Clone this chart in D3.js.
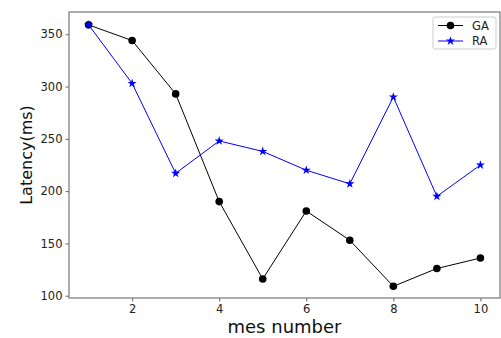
<!DOCTYPE html>
<html>
<head>
<meta charset="utf-8">
<script src="https://cdn.jsdelivr.net/npm/d3@7"></script>
<style>
  body { margin: 0; background: #fff; }
  text { font-family: "DejaVu Sans", sans-serif; }
</style>
</head>
<body>
<div class="latency-plot"></div>
<script>
// data
const mesNumbers = [1, 2, 3, 4, 5, 6, 7, 8, 9, 10];
const gaLatency = [359, 344, 293, 190, 116, 181, 153, 109, 126, 136];
const raLatency = [359, 303, 217, 248, 238, 220, 207, 290, 195, 225];
const xTicks = [2, 4, 6, 8, 10];
const yTicks = [100, 150, 200, 250, 300, 350];

function renderLineChart() {
	const width = 501;
	const height = 338;
	const margin = {top: 12, right: 1, bottom: 40, left: 69};

	const svg = d3.select('.latency-plot')
				.append('svg')
				.attr('width', width)
				.attr('height', height);

	const x = d3.scaleLinear()
				.domain([0.55, 10.45])
				.range([margin.left, width - margin.right]);
	const y = d3.scaleLinear()
				.domain([97.8, 371.3])
				.range([height - margin.bottom, margin.top]);

	// axes
	const xAxis = svg.append('g')
				.attr('transform', `translate(0,${height - margin.bottom})`)
				.call(d3.axisBottom(x).tickValues(xTicks).tickSize(3.5).tickPadding(3));
	const yAxis = svg.append('g')
				.attr('transform', `translate(${margin.left},0)`)
				.call(d3.axisLeft(y).tickValues(yTicks).tickSize(3.5).tickPadding(3));

	[xAxis, yAxis].forEach(function(ax) {
		ax.select('.domain').remove();
		ax.selectAll('line').attr('stroke', '#666');
		ax.selectAll('text')
			.attr('fill', '#222')
			.attr('font-size', '11.5px')
			.attr('font-family', '"DejaVu Sans", sans-serif');
	});

	// frame
	svg.append('rect')
		.attr('x', margin.left)
		.attr('y', margin.top)
		.attr('width', width - margin.right - margin.left)
		.attr('height', height - margin.bottom - margin.top)
		.attr('fill', 'none')
		.attr('stroke', '#777')
		.attr('stroke-width', 1.2);

	const gaData = mesNumbers.map(function(d, i) { return {x: d, y: gaLatency[i]}; });
	const raData = mesNumbers.map(function(d, i) { return {x: d, y: raLatency[i]}; });

	const line = d3.line()
				.x(function(d) { return x(d.x); })
				.y(function(d) { return y(d.y); });

	svg.append('path')
		.datum(gaData)
		.attr('d', line)
		.attr('fill', 'none')
		.attr('stroke', 'black')
		.attr('stroke-width', 1);

	svg.selectAll('.ga-dot')
		.data(gaData)
		.enter()
		.append('circle')
		.attr('class', 'ga-dot')
		.attr('cx', function(d) { return x(d.x); })
		.attr('cy', function(d) { return y(d.y); })
		.attr('r', 3.8)
		.attr('fill', 'black');

	svg.append('path')
		.datum(raData)
		.attr('d', line)
		.attr('fill', 'none')
		.attr('stroke', 'blue')
		.attr('stroke-width', 1);

	const star = d3.symbol().type(d3.symbolStar).size(26);
	svg.selectAll('.ra-dot')
		.data(raData)
		.enter()
		.append('path')
		.attr('class', 'ra-dot')
		.attr('d', star)
		.attr('transform', function(d) { return `translate(${x(d.x)},${y(d.y)})`; })
		.attr('fill', 'blue');

	// axis titles
	svg.append('text')
		.text('mes number')
		.attr('x', (margin.left + width - margin.right) / 2)
		.attr('y', 333)
		.attr('text-anchor', 'middle')
		.attr('font-size', '18px')
		.attr('fill', '#111');

	svg.append('text')
		.text('Latency(ms)')
		.attr('transform', `translate(32,${(margin.top + height - margin.bottom) / 2}) rotate(-90)`)
		.attr('text-anchor', 'middle')
		.attr('font-size', '16px')
		.attr('fill', '#111');

	// legend
	const legend = svg.append('g');
	legend.append('rect')
		.attr('x', 433)
		.attr('y', 17)
		.attr('width', 63)
		.attr('height', 32)
		.attr('rx', 2)
		.attr('fill', 'white')
		.attr('stroke', '#ccc');

	const entries = [
		{name: 'GA', color: 'black', marker: 'circle', cy: 25.5},
		{name: 'RA', color: 'blue', marker: 'star', cy: 41}
	];
	entries.forEach(function(e) {
		legend.append('line')
			.attr('x1', 438).attr('x2', 463)
			.attr('y1', e.cy).attr('y2', e.cy)
			.attr('stroke', e.color);
		if (e.marker === 'circle') {
			legend.append('circle')
				.attr('cx', 450.5).attr('cy', e.cy).attr('r', 3.8)
				.attr('fill', e.color);
		} else {
			legend.append('path')
				.attr('d', star)
				.attr('transform', `translate(450.5,${e.cy})`)
				.attr('fill', e.color);
		}
		legend.append('text')
			.text(e.name)
			.attr('x', 472)
			.attr('y', e.cy + 4)
			.attr('font-size', '11.5px')
			.attr('fill', '#222');
	});
}

renderLineChart();
</script>
</body>
</html>
